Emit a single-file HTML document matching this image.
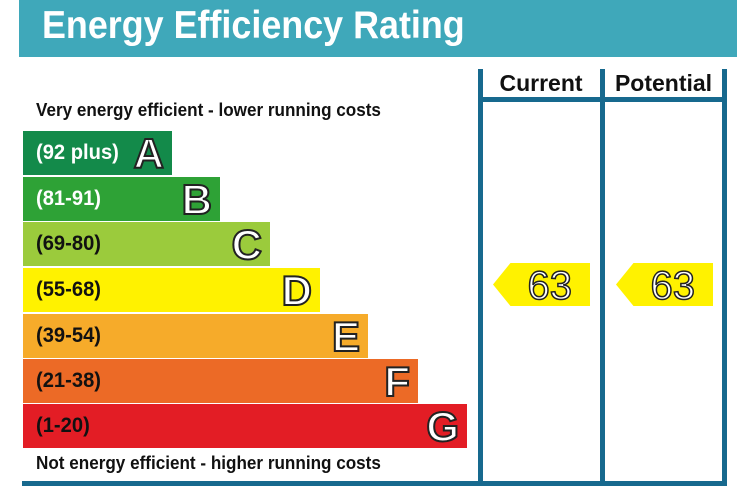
<!DOCTYPE html>
<html><head><meta charset="utf-8"><style>
body{margin:0;width:737px;height:499px;background:#fff;position:relative;overflow:hidden;font-family:"Liberation Sans",Arial,sans-serif}
div{position:absolute;box-sizing:border-box}
.cond{transform:scaleX(0.88);transform-origin:left center;white-space:nowrap}
.bar{left:23px;height:44px}
.lab{left:13px;top:0;line-height:44px;font-size:21px;font-weight:bold;color:#111;transform:scaleX(0.96);transform-origin:left center;white-space:nowrap}
.let{right:8px;top:0;line-height:46px;font-size:42px;color:#fff;-webkit-text-stroke:2px #222;font-weight:bold}
.ln{background:#17698e}
.arr{height:43px;top:263px;background:#fff200;clip-path:polygon(0 50%,18% 0,100% 0,100% 100%,18% 100%);font-size:40px;color:#fff;-webkit-text-stroke:1.5px #222;line-height:46px;text-align:right;padding-right:18px}
</style></head><body>
<div style="left:19px;top:0;width:718px;height:57px;background:#3fa8ba"></div>
<div class="cond" style="left:42px;top:4px;font-size:39px;font-weight:bold;color:#fff;line-height:44px;transform:scaleX(0.92)">Energy Efficiency Rating</div>
<div class="cond" style="left:36px;top:100px;font-size:18px;font-weight:bold;color:#111;transform:scaleX(0.95)">Very energy efficient - lower running costs</div>
<div class="cond" style="left:36px;top:453px;font-size:18px;font-weight:bold;color:#111;transform:scaleX(0.95)">Not energy efficient - higher running costs</div>
<div style="left:482px;top:70px;width:118px;text-align:center;font-size:23px;font-weight:bold;color:#111">Current</div>
<div style="left:605px;top:70px;width:117px;text-align:center;font-size:23px;font-weight:bold;color:#111">Potential</div>
<div class="ln" style="left:478px;top:69px;width:5px;height:417px"></div>
<div class="ln" style="left:600px;top:69px;width:5px;height:417px"></div>
<div class="ln" style="left:722px;top:69px;width:5px;height:417px"></div>
<div class="ln" style="left:478px;top:97px;width:249px;height:5px"></div>
<div class="ln" style="left:22px;top:481px;width:705px;height:5px"></div>
<div class="arr" style="left:493px;width:97px">63</div>
<div class="arr" style="left:616px;width:97px">63</div>
<script>
const labels=["(92 plus)","(81-91)","(69-80)","(55-68)","(39-54)","(21-38)","(1-20)"];
const letters=["A","B","C","D","E","F","G"];
const colors=["#138a4a","#2ea236","#9bcb3c","#fff200","#f6ab2a","#ec6a26","#e31d25"];
const tops=[131,177,222,268,314,359,404],widths=[149,197,247,297,345,395,444];
letters.forEach((L,i)=>{
const b=document.createElement('div');b.className='bar';


b.style.top=tops[i]+'px';b.style.width=widths[i]+'px';b.style.background=colors[i];
const l=document.createElement('div');l.className='lab';l.textContent=labels[i];


if(i<2)l.style.color='#fff';
const t=document.createElement('div');t.className='let';t.textContent=L;


b.appendChild(l);b.appendChild(t);document.body.appendChild(b);});
</script>
</body></html>
